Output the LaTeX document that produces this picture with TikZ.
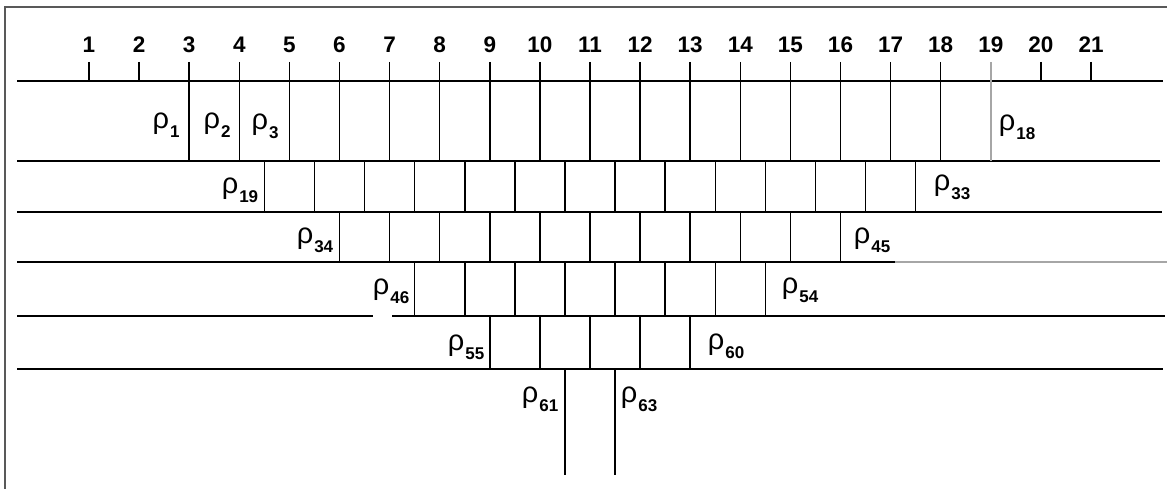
\documentclass[tikz,border=0pt]{standalone}
\usepackage{fontspec}
\setmainfont{Liberation Sans}
\newcommand{\rholab}[1]{{\fontsize{29}{29}\selectfont ρ}\kern1pt\raisebox{-9pt}{\fontsize{17}{17}\selectfont\bfseries #1}}
\begin{document}
\begin{tikzpicture}[x=1pt,y=-1pt,
  hline/.style={line width=1.8pt, black},
  vline/.style={line width=1.5pt, black},
  faint/.style={line width=1.5pt, black!35},
  frame/.style={line width=2pt, black!65},
  num/.style={font=\fontsize{22.5}{22.5}\selectfont\bfseries, inner sep=0pt},
  rho/.style={inner sep=0pt}]
\useasboundingbox (0,0) rectangle (1167,489);
% frame
\draw[frame] (1167,7) -- (5,7) -- (5,489);
% scale numbers
\foreach \i in {1,...,21} {
  \pgfmathsetmacro\xx{89+(\i-1)*50.1}
  \node[num] (n\i) at (\xx,45) {\i};
  \coordinate (t\i) at (\xx,62);
}
% horizontal lines
\draw[hline] (17,81) -- (1163,81);
\draw[hline] (17,161) -- (1160,161);
\draw[hline] (17,212) -- (1162,212);
\draw[hline] (17,262) -- (895,262);
\draw[faint] (895,262) -- (1167,262);
\draw[hline] (17,316) -- (373,316);
\draw[hline] (392,316) -- (1165,316);
\draw[hline] (17,369) -- (1163,369);
% short ticks
\foreach \i in {1,2,20,21} \draw[vline] (t\i) -- (t\i |- 0,81);
% row 1 verticals
\foreach \i in {3,...,18} \draw[vline] (t\i) -- (t\i |- 0,161);
\draw[faint] (t19) -- (t19 |- 0,161);
% row 2 verticals (half positions 4.5 .. 17.5)
\foreach \i in {4,...,17} {
  \pgfmathsetmacro\xx{89+(\i-0.5)*50.1}
  \draw[vline] (\xx,161) -- (\xx,212);
}
% row 3 verticals 6 .. 16
\foreach \i in {6,...,16} \draw[vline] (t\i |- 0,212) -- (t\i |- 0,262);
% row 4 verticals 7.5 .. 14.5
\foreach \i in {7,...,14} {
  \pgfmathsetmacro\xx{89+(\i-0.5)*50.1}
  \draw[vline] (\xx,262) -- (\xx,316);
}
% row 5 verticals 9 .. 13
\foreach \i in {9,...,13} \draw[vline] (t\i |- 0,316) -- (t\i |- 0,369);
% row 6 verticals 10.5, 11.5
\foreach \i in {10,11} {
  \pgfmathsetmacro\xx{89+(\i-0.5)*50.1}
  \draw[vline] (\xx,369) -- (\xx,475);
}
% rho labels
\node[rho] (r1)  at (166,125) {\rholab{1}};
\node[rho] (r2)  at (217,125) {\rholab{2}};
\node[rho] (r3)  at (265,126) {\rholab{3}};
\node[rho] (r18) at (1017,127) {\rholab{18}};
\node[rho] (r19) at (240,190) {\rholab{19}};
\node[rho] (r33) at (952,187) {\rholab{33}};
\node[rho] (r34) at (315,240) {\rholab{34}};
\node[rho] (r45) at (872,240) {\rholab{45}};
\node[rho] (r46) at (391,291) {\rholab{46}};
\node[rho] (r54) at (800,290) {\rholab{54}};
\node[rho] (r55) at (466,347) {\rholab{55}};
\node[rho] (r60) at (726,346) {\rholab{60}};
\node[rho] (r61) at (540,399) {\rholab{61}};
\node[rho] (r63) at (639,399) {\rholab{63}};
\end{tikzpicture}
\end{document}
